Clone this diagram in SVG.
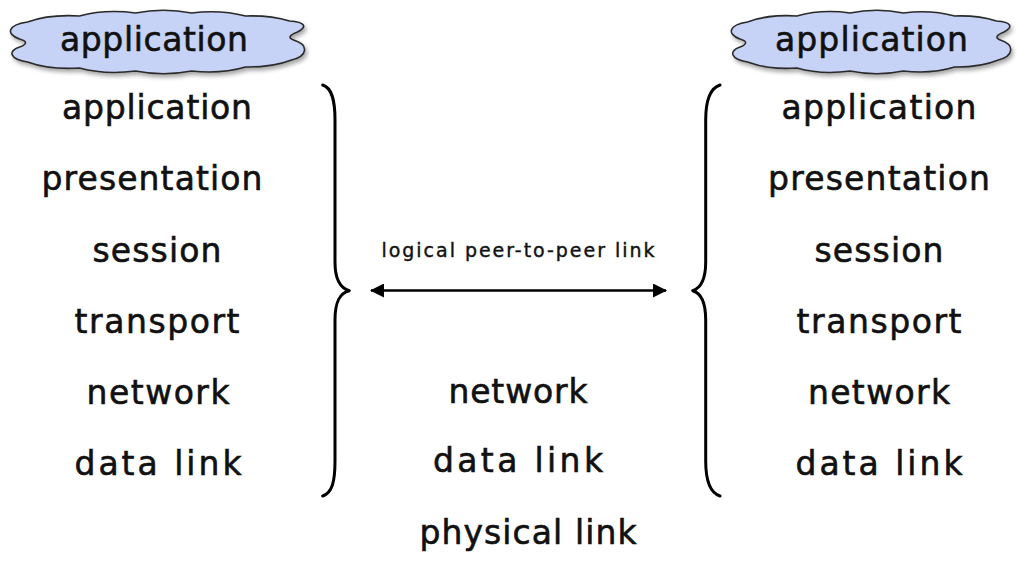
<svg xmlns="http://www.w3.org/2000/svg" xmlns:xlink="http://www.w3.org/1999/xlink" width="1018" height="561" viewBox="0 0 1018 561">
  <style>
    .layer { font-family: "DejaVu Sans", "Liberation Sans", sans-serif; font-size: 33px; fill: #111; stroke: #111; stroke-width: 0.6; text-anchor: middle; }
    .small { font-family: "DejaVu Sans", "Liberation Sans", sans-serif; font-size: 19px; fill: #111; stroke: #111; stroke-width: 0.4; text-anchor: middle; }
    .brace { fill: none; stroke: #000; stroke-width: 3; stroke-linecap: round; stroke-linejoin: round; }
    .cloud { fill: #c7d3f6; stroke: #2a2a2a; stroke-width: 1.6; stroke-linejoin: round; }
    .link { stroke: #000; stroke-width: 2.5; fill: none; }
  </style>
  <defs>
    <filter id="shadow" x="-10%" y="-30%" width="120%" height="170%">
      <feDropShadow dx="2" dy="3" stdDeviation="2" flood-color="#000" flood-opacity="0.35"/>
    </filter>
    <!-- cloud outline centred on x = 0 -->
    <path id="cloudShape" d="M -130 22
      A 60 22 0 0 1 -78 16
      A 60 22 0 0 1 -22 13
      A 60 22 0 0 1 34 13
      A 60 22 0 0 1 88 16
      A 60 22 0 0 1 132 21
      C 148 22 150 27 140 32
      C 132 35 130 38 136 40
      C 152 45 150 56 134 60
      A 60 22 0 0 1 88 67
      A 60 22 0 0 1 34 71
      A 60 22 0 0 1 -22 71
      A 60 22 0 0 1 -78 68
      A 60 22 0 0 1 -130 62
      C -148 59 -150 51 -138 47
      C -130 44 -130 41 -138 39
      C -152 34 -150 25 -130 22 Z"/>
    <marker id="head" viewBox="0 0 14 14" refX="13" refY="7" markerWidth="14" markerHeight="14" markerUnits="userSpaceOnUse" orient="auto-start-reverse">
      <path d="M 0 0 L 14 7 L 0 14 Z" fill="#000"/>
    </marker>
  </defs>

  <rect width="1018" height="561" fill="#fff"/>

  <!-- left end system -->
  <g id="cloud-left">
    <use xlink:href="#cloudShape" class="cloud" filter="url(#shadow)" transform="translate(157.5,0)"/>
    <text class="layer" x="154" y="51" textLength="188">application</text>
  </g>
  <g id="stack-left">
    <text class="layer" x="157" y="119" textLength="190">application</text>
    <text class="layer" x="152" y="190" textLength="221">presentation</text>
    <text class="layer" x="157" y="262" textLength="129">session</text>
    <text class="layer" x="157" y="333" textLength="165">transport</text>
    <text class="layer" x="158" y="404" textLength="143">network</text>
    <text class="layer" x="158" y="475" textLength="167">data link</text>
  </g>

  <!-- right end system -->
  <g id="cloud-right">
    <use xlink:href="#cloudShape" class="cloud" filter="url(#shadow)" transform="translate(871,0) scale(0.95,1)"/>
    <text class="layer" x="871.5" y="51" textLength="193">application</text>
  </g>
  <g id="stack-right">
    <text class="layer" x="879" y="119" textLength="195">application</text>
    <text class="layer" x="879" y="190" textLength="222">presentation</text>
    <text class="layer" x="879" y="262" textLength="129">session</text>
    <text class="layer" x="879" y="333" textLength="165">transport</text>
    <text class="layer" x="879" y="404" textLength="142">network</text>
    <text class="layer" x="879" y="475" textLength="167">data link</text>
  </g>

  <!-- intermediate node -->
  <g id="stack-middle">
    <text class="layer" x="518" y="403" textLength="139">network</text>
    <text class="layer" x="518" y="472" textLength="170">data link</text>
    <text class="layer" x="528" y="544" textLength="217">physical link</text>
  </g>

  <!-- braces grouping each end's layers -->
  <g id="braces">
    <path class="brace" d="M 322.7 85 C 332 88 335 100 335 120 L 335 262 C 335 280 340 288 349.3 290.7 C 340 293 335 301 335 320 L 335 461 C 335 482 332 493 322.7 496"/>
    <path class="brace" d="M 720 85 C 710.7 88 705.7 100 705.7 120 L 705.7 262 C 705.7 280 700.7 288 692.7 290.7 C 700.7 293 705.7 301 705.7 320 L 705.7 461 C 705.7 482 710.7 493 720 496"/>
  </g>

  <!-- logical link between the two ends -->
  <g id="connectors">
    <line class="link" x1="371" y1="290.5" x2="666" y2="290.5" marker-start="url(#head)" marker-end="url(#head)"/>
    <text class="small" x="518" y="257" textLength="273">logical peer-to-peer link</text>
  </g>
</svg>
